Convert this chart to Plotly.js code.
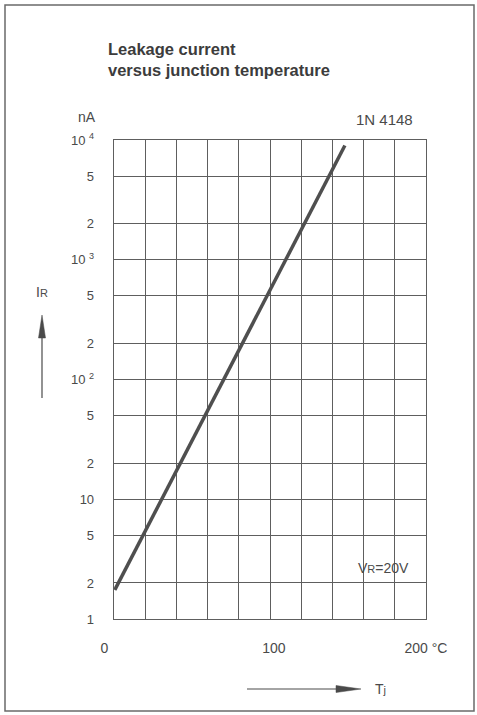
<!DOCTYPE html>
<html>
<head>
<meta charset="utf-8">
<script src="https://cdn.plot.ly/plotly-3.0.1.min.js"></script>
<style>html,body{margin:0;padding:0;background:#fff;}#chart{width:477px;height:715px;}</style>
</head>
<body>
<div id="chart"></div>
<script>
// ---- data ----
var temperature = [0.5, 148];        // Tj in °C
var leakage = [1.75, 9000];          // IR in nA
var yTickVals = [1, 2, 5, 10, 20, 50, 100, 200, 500, 1000, 2000, 5000, 10000];
var yTickText = ["1", "2", "5", "10", "2", "5", "10 <sup>2</sup>", "2", "5", "10 <sup>3</sup>", "2", "5", "10 <sup>4</sup>"];
var xTickVals = [0, 100, 200];
var xTickText = ["0\u00a0\u00a0\u00a0\u00a0\u00a0", "\u00a0\u00a0100", "200 °C"];

// ---- layout helpers (pixel -> paper) ----
var W = 477, H = 715, L = 114, R = 51, T = 140, B = 96;
var PW = W - L - R, PH = H - T - B;
function px(x) { return (x - L) / PW; }
function py(y) { return (H - B - y) / PH; }

var ink = "#4a4a4a";
var gridc = "#5e5e5e";
var font = "Liberation Sans, Arial, sans-serif";

var trace = {
  x: temperature, y: leakage, type: "scatter", mode: "lines",
  line: { color: "#4f4f4f", width: 3.5 }, hoverinfo: "skip"
};

function tri(pts) {
  return "M" + pts.map(function (p) { return px(p[0]) + "," + py(p[1]); }).join(" L") + " Z";
}

var layout = {
  width: W, height: H,
  margin: { l: L, r: R, t: T, b: B },
  paper_bgcolor: "#ffffff", plot_bgcolor: "#ffffff",
  showlegend: false,
  font: { family: font, color: ink, size: 13 },
  title: {
    text: "<b>Leakage current<br>versus junction temperature</b>",
    x: 108 / W, xanchor: "left", xref: "container",
    y: 1 - 55 / H, yanchor: "top", yref: "container",
    font: { family: font, size: 16.5, color: "#3c3c3c" }
  },
  xaxis: {
    range: [0, 200], tickmode: "array", tickvals: xTickVals, ticktext: xTickText,
    showgrid: true, gridcolor: gridc, gridwidth: 1,
    minor: { tickmode: "linear", tick0: 0, dtick: 20, showgrid: true, gridcolor: gridc, gridwidth: 1, ticks: "" },
    showline: true, mirror: true, linecolor: gridc, linewidth: 1.3,
    zeroline: false, ticks: "", ticklabelstandoff: 16,
    tickfont: { family: font, size: 14, color: ink }, fixedrange: true
  },
  yaxis: {
    type: "log", range: [0, 4], tickmode: "array", tickvals: yTickVals, ticktext: yTickText,
    showgrid: true, gridcolor: gridc, gridwidth: 1,
    showline: true, mirror: true, linecolor: gridc, linewidth: 1.3,
    zeroline: false, ticks: "", ticklabelstandoff: 16,
    tickfont: { family: font, size: 13, color: ink }, fixedrange: true
  },
  annotations: [
    { text: "nA", xref: "paper", yref: "paper", x: px(87), y: py(117), xanchor: "center", yanchor: "middle", showarrow: false, font: { size: 14, color: ink, family: font } },
    { text: "1N 4148", xref: "paper", yref: "paper", x: px(384), y: py(120), xanchor: "center", yanchor: "middle", showarrow: false, font: { size: 15, color: ink, family: font } },
    { text: "I<span style='font-size:11px'>R</span>", xref: "paper", yref: "paper", x: px(42), y: py(292), xanchor: "center", yanchor: "middle", showarrow: false, font: { size: 14, color: ink, family: font } },
    { text: "V<span style='font-size:11px'>R</span>=20V", xref: "paper", yref: "paper", x: px(383), y: py(568), xanchor: "center", yanchor: "middle", showarrow: false, font: { size: 14, color: ink, family: font } },
    { text: "T<span style='font-size:11px'>j</span>", xref: "paper", yref: "paper", x: px(373), y: py(689), xanchor: "left", yanchor: "middle", showarrow: false, font: { size: 14, color: ink, family: font } }
  ],
  shapes: [
    // outer frame
    { type: "rect", xref: "paper", yref: "paper", x0: px(5), x1: px(474), y0: py(711), y1: py(5), line: { color: "#6a6a6a", width: 1.5 } },
    // up arrow (IR)
    { type: "line", xref: "paper", yref: "paper", x0: px(42), x1: px(42), y0: py(398), y1: py(336), line: { color: ink, width: 1.2 } },
    { type: "path", xref: "paper", yref: "paper", path: tri([[38.5, 338], [45.5, 338], [42, 315]]), fillcolor: ink, line: { color: ink, width: 0.5 } },
    // right arrow (Tj)
    { type: "line", xref: "paper", yref: "paper", x0: px(247), x1: px(338), y0: py(689), y1: py(689), line: { color: ink, width: 1.2 } },
    { type: "path", xref: "paper", yref: "paper", path: tri([[336, 685.5], [336, 692.5], [361, 689]]), fillcolor: ink, line: { color: ink, width: 0.5 } }
  ]
};

Plotly.newPlot("chart", [trace], layout, { displayModeBar: false, staticPlot: true });
</script>
</body>
</html>
